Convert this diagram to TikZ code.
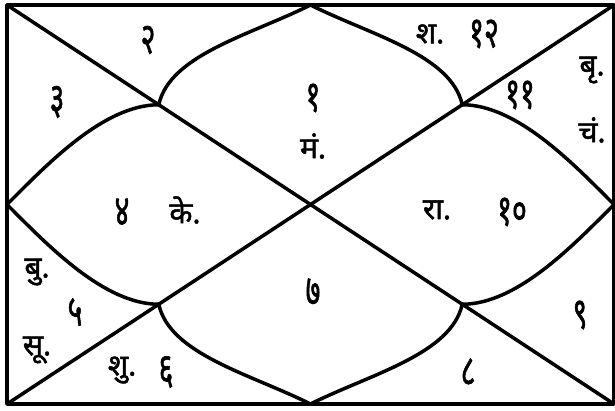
\documentclass[tikz,border=0pt]{standalone}
\usepackage{fontspec}
\newfontfamily\deva[Script=Devanagari, FakeBold=1.6]{Noto Sans}
\newcommand{\tall}[1]{\scalebox{0.95}[1.45]{#1}}
\begin{document}
\begin{tikzpicture}[
  x=1pt, y=-1pt,
  line width=3.5pt, line join=round, line cap=round,
  lbl/.style={font=\deva\fontsize{30}{34}\selectfont, inner sep=0pt},
]
  \useasboundingbox (0,0) rectangle (615,410);
  % corners, centre and mid points
  \coordinate (tl) at (7,5);
  \coordinate (tr) at (614,5);
  \coordinate (bl) at (7,404);
  \coordinate (br) at (614,404);
  \coordinate (c) at (310.5,204.5);
  \coordinate (tm) at (310.5,5);
  \coordinate (bm) at (310.5,404);
  \coordinate (lm) at (7,204.5);
  \coordinate (rm) at (614,204.5);
  \coordinate (qtl) at (158.75,104.75);
  \coordinate (qtr) at (462.25,104.75);
  \coordinate (qbl) at (158.75,304.25);
  \coordinate (qbr) at (462.25,304.25);

  \draw (tl) rectangle (br);
  \draw (tl) -- (br);
  \draw (tr) -- (bl);

  % petals
  \draw (tm) .. controls +(-60,30) and +(11,-50) .. (qtl);
  \draw (tm) .. controls +(60,30) and +(-11,-50) .. (qtr);
  \draw (bm) .. controls +(-60,-30) and +(11,50) .. (qbl);
  \draw (bm) .. controls +(60,-30) and +(-11,50) .. (qbr);
  \draw (lm) .. controls +(40,-40) and +(-55,0) .. (qtl);
  \draw (lm) .. controls +(40,40) and +(-55,0) .. (qbl);
  \draw (rm) .. controls +(-40,-40) and +(55,0) .. (qtr);
  \draw (rm) .. controls +(-40,40) and +(55,0) .. (qbr);

  % houses
  \node[lbl] (h1) at (313,98) {\tall{१}};
  \node[lbl] (ma) at (313,146) {मं.};
  \node[lbl] (h2) at (148,40) {\tall{२}};
  \node[lbl] (h3) at (57,102) {\tall{३}};
  \node[lbl] (h4) at (122,212) {\tall{४}};
  \node[lbl] (ke) at (185,210) {के.};
  \node[lbl] (bu) at (37,272) {बु.};
  \node[lbl] (h5) at (75,312) {\tall{५}};
  \node[lbl] (su) at (37,350) {सू.};
  \node[lbl] (shu) at (122,370) {शु.};
  \node[lbl] (h6) at (166,372) {\tall{६}};
  \node[lbl] (h7) at (313,292) {\tall{७}};
  \node[lbl] (h8) at (468,372) {\tall{८}};
  \node[lbl] (h9) at (580,315) {\tall{९}};
  \node[lbl] (ra) at (437,210) {रा.};
  \node[lbl] (h10) at (512,212) {\tall{१०}};
  \node[lbl] (h11) at (520,95) {\tall{११}};
  \node[lbl] (bri) at (592,70) {बृ.};
  \node[lbl] (cha) at (592,130) {चं.};
  \node[lbl] (sha) at (430,34) {श.};
  \node[lbl] (h12) at (484,34) {\tall{१२}};
\end{tikzpicture}
\end{document}
